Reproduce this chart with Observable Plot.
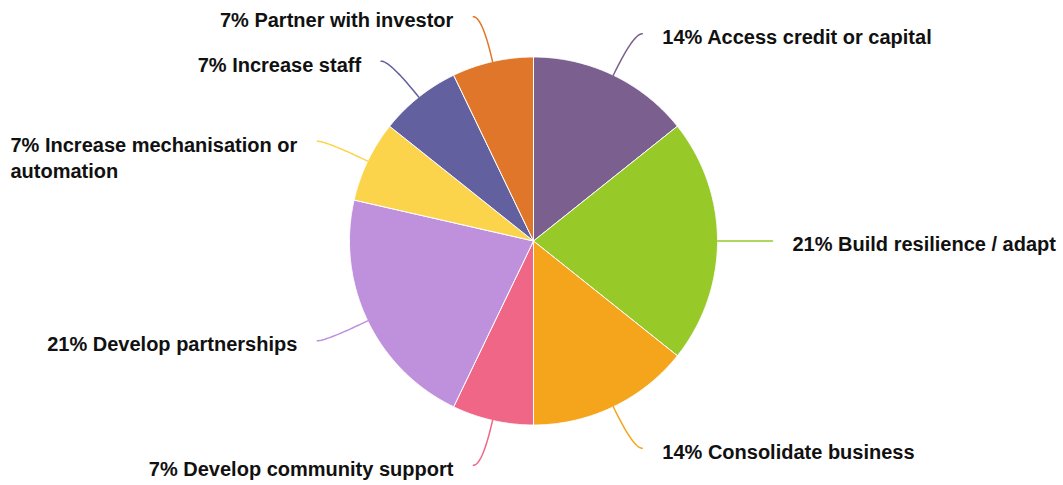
<!DOCTYPE html>
<html><head><meta charset="utf-8">
<script src="https://cdn.jsdelivr.net/npm/d3@7"></script>
<script src="https://cdn.jsdelivr.net/npm/@observablehq/plot@0.6"></script>
<style>body{margin:0;background:#fff}</style>
</head><body><div id="chart"></div>
<script>
const categories = ["Access credit or capital","Build resilience / adapt","Consolidate business","Develop community support","Develop partnerships","Increase mechanisation or\nautomation","Increase staff","Partner with investor"];
const percents = [14,21,14,7,21,7,7,7];
const colors = ["#7b5f8f","#97c928","#f5a51c","#ef6686","#bf91dc","#fcd44b","#62609e","#e0762a"];

const W = 1063, H = 485, cx = 533, cy = 240.5, R = 184, R1 = 230, L2 = 9, GAP = 20;
const FONT = "Liberation Sans, Arial, Helvetica, sans-serif";
const FS = 20;

const arcs = d3.pie().sort(null).value(d => d.value)(categories.map((c, i) => ({category: c, value: percents[i]})));
const pt = (a, r) => [cx + r * Math.sin(a), cy - r * Math.cos(a)];

const slicePts = [];
const leaderPts = [];
const labels = [];
const ctx = document.createElement("canvas").getContext("2d");
ctx.font = `bold ${FS}px ${FONT}`;

for (const s of arcs) {
  const c = s.data.category;
  slicePts.push({category: c, x: cx, y: cy});
  const n = Math.max(2, Math.ceil((s.endAngle - s.startAngle) / 0.005));
  for (let k = 0; k <= n; k++) {
    const a = s.startAngle + (s.endAngle - s.startAngle) * k / n;
    const [x, y] = pt(a, R);
    slicePts.push({category: c, x, y});
  }
  slicePts.push({category: c, x: cx, y: cy});

  const a = (s.startAngle + s.endAngle) / 2;
  const side = Math.sin(a) >= -1e-9 ? 1 : -1;
  const P0 = pt(a, R), P1 = pt(a, R1), P2 = [P1[0] + side * L2, P1[1]];
  for (let k = 0; k <= 30; k++) {
    const t = k / 30, u = 1 - t;
    leaderPts.push({category: c,
      x: u*u*P0[0] + 2*u*t*P1[0] + t*t*P2[0],
      y: u*u*P0[1] + 2*u*t*P1[1] + t*t*P2[1]});
  }
  const text = `${s.data.value}% ${c}`;
  const w = Math.max(...text.split("\n").map(l => ctx.measureText(l).width));
  labels.push({category: c, text, x: side > 0 ? P2[0] + GAP : P2[0] - GAP - w, y: P2[1] - 8});
}

const chart = Plot.plot({
  width: W, height: H, margin: 0,
  x: {domain: [0, W], range: [0, W], axis: null},
  y: {domain: [0, H], range: [0, H], axis: null},
  color: {domain: categories, range: colors},
  style: {fontFamily: FONT, background: "#fff"},
  marks: [
    Plot.line(slicePts, {x: "x", y: "y", z: "category", fill: "category", stroke: "#fff", strokeWidth: 1, curve: "linear"}),
    Plot.line(leaderPts, {x: "x", y: "y", z: "category", stroke: "category", strokeWidth: 1.5, curve: "linear"}),
    Plot.text(labels, {x: "x", y: "y", text: "text", textAnchor: "start", lineAnchor: "top", fontSize: FS, fontWeight: "bold", fill: "#111", lineHeight: 1.3})
  ]
});
document.getElementById("chart").appendChild(chart);
</script>
</body></html>
